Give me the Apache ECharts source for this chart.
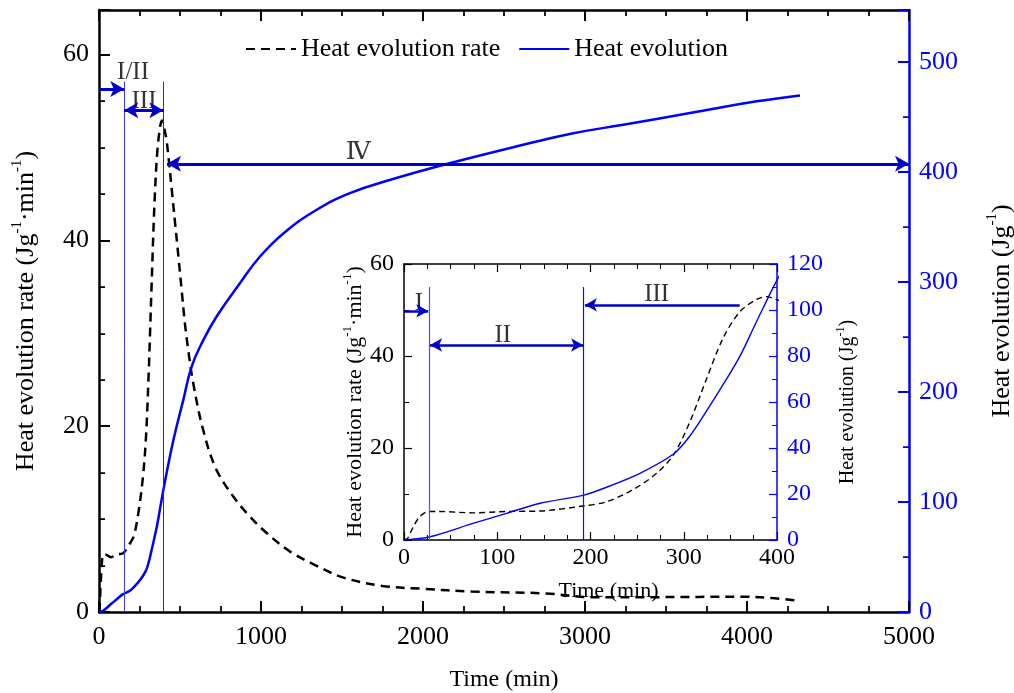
<!DOCTYPE html>
<html>
<head>
<meta charset="utf-8">
<script src="https://cdn.jsdelivr.net/npm/echarts@6/dist/echarts.min.js"></script>
<style>
html,body{margin:0;padding:0;background:#fff;}
#chart{width:1014px;height:693px;}
</style>
</head>
<body>
<div id="chart"></div>
<script>
// ---- Data ----
const rateTime = [0,4,10,17,26,38,74,110,146,192,217,246,271,289,306,324,342,360,378,389,399,415,430,450,470,490,510,530,550,580,640,720,830,930,1035,1180,1340,1510,1750,2000,2300,2760,3030,3440,3960,4150,4320];
const rateValue = [0,0.4,2.9,5.1,6.2,6.2,5.9,6.2,6.3,7.4,8.3,11,14.5,18.5,25.4,34.8,43.8,49.6,52.3,52.9,52.3,51,48.8,45.3,41.8,38.3,34.7,31.1,28.3,24.8,19.8,15.5,12.4,10.3,8.5,6.5,5.0,3.7,2.8,2.5,2.2,2.0,1.6,1.6,1.65,1.5,1.2];
const heatTime = [0,28,74,110,146,192,217,253,289,306,324,342,360,378,400,459,521,572,644,726,870,994,1138,1344,1549,1800,2146,2619,2928,3236,3648,4060,4327];
const heatValue = [0,1.4,7.2,11.6,16,19.4,22.9,29,37.4,44.9,55.8,67.4,79.7,94.9,113,156,193,223,247,268.5,298.8,323,344,365.5,380.6,392.7,407,424.5,435,442.7,453.4,464,469.4];

const seriesNames = ['Heat evolution rate', 'Heat evolution'];

// main-chart stage annotations (time in min, level in left-axis units)
const mainPhaseBounds = [156, 397];
const mainPhaseTop = 57.1;
const mainArrowFrom = [0, 156, 420];
const mainArrowTo = [156, 397, 5000];
const mainArrowLevel = [56.3, 54.0, 48.25];
const mainArrowBoth = [false, true, true];
const mainStageText = ['I/II', 'III', 'Ⅳ'];
const mainStageX = [210, 278, 1600];
const mainStageY = [58.1, 55.0, 49.5];

// inset stage annotations
const insetPhaseBounds = [27, 192];
const insetPhaseTop = 55;
const insetArrowFrom = [0, 28, 360];
const insetArrowTo = [26, 192, 194];
const insetArrowLevel = [49.8, 42.4, 51.1];
const insetArrowBoth = [false, true, false];
const insetStageText = ['I', 'II', 'III'];
const insetStageX = [16, 106, 271];
const insetStageY = [51.4, 44.4, 53.4];

// ---- build ----
const SERIF = "'Liberation Serif','Times New Roman','DejaVu Serif',serif";
const BLUE = '#0000ff';
const ABLUE = '#0000cc';
const rateData = rateTime.map((t, i) => [t, rateValue[i]]);
const heatData = heatTime.map((t, i) => [t, heatValue[i]]);

function arrowLines(from, to, lvl, both, width, size) {
  return from.map((f, i) => [
    {coord: [f, lvl[i]], symbol: both[i] ? 'arrow' : 'none', symbolSize: size},
    {coord: [to[i], lvl[i]], symbol: 'arrow', symbolSize: size, lineStyle: {color: ABLUE, width: width, type: 'solid'}}
  ]);
}
function phaseLines(bounds, top, colors, width) {
  return bounds.map((b, i) => [
    {coord: [b, 0], symbol: 'none'},
    {coord: [b, top], symbol: 'none', lineStyle: {color: colors[i], width: width, type: 'solid'}}
  ]);
}
function richName(size, supSize, color, pad) {
  return {
    fontFamily: SERIF, fontSize: size, color: color, padding: pad || 0,
    rich: {
      b: {fontFamily: SERIF, fontSize: size, color: color, lineHeight: size * 1.3},
      s: {fontFamily: SERIF, fontSize: supSize, color: color, verticalAlign: 'top', lineHeight: supSize}
    }
  };
}
const rateTitle = '{b|Heat evolution rate (Jg}{s|-1}{b|·min}{s|-1}{b|)}';
const heatTitle = '{b|Heat evolution (Jg}{s|-1}{b|)}';
const plain = v => String(v);

function xAx(grid, pos, max, interval, showLabel, fs, name, nameGap, lw, namePad, margin) {
  return {
    type: 'value', gridIndex: grid, position: pos, min: 0, max: max, interval: interval,
    name: name, nameLocation: 'middle', nameGap: nameGap,
    nameTextStyle: {fontFamily: SERIF, fontSize: fs - 2, color: '#000', padding: namePad || 0},
    axisLine: {show: true, onZero: false, lineStyle: {color: '#000', width: lw}},
    axisTick: {show: true, inside: true, length: grid === 0 ? 11 : 8, lineStyle: {color: '#000', width: lw * 0.8}},
    minorTick: {show: true, splitNumber: 4, length: grid === 0 ? 6 : 5, lineStyle: {color: '#000', width: lw * 0.7}},
    axisLabel: {show: showLabel, fontFamily: SERIF, fontSize: fs, color: '#000', margin: margin, formatter: plain},
    splitLine: {show: false}, minorSplitLine: {show: false}
  };
}
function yAx(grid, pos, max, interval, minorSplit, color, fs, name, nameGap, nameStyle, lw) {
  return {
    type: 'value', gridIndex: grid, position: pos, min: 0, max: max, interval: interval,
    name: name, nameLocation: 'middle', nameGap: nameGap, nameRotate: 90, nameTextStyle: nameStyle,
    axisLine: {show: true, onZero: false, lineStyle: {color: color, width: lw}},
    axisTick: {show: true, inside: true, length: grid === 0 ? 11 : 8, lineStyle: {color: color, width: lw * 0.8}},
    minorTick: {show: true, splitNumber: minorSplit, length: grid === 0 ? 6 : 5, lineStyle: {color: color, width: lw * 0.7}},
    axisLabel: {fontFamily: SERIF, fontSize: fs, color: color, margin: 10, formatter: plain, showMaxLabel: max % interval === 0},
    splitLine: {show: false}, minorSplitLine: {show: false}
  };
}

const option = {
  animation: false,
  backgroundColor: '#fff',
  grid: [
    {left: 99, right: 105, top: 10, bottom: 81, containLabel: false, outerBoundsMode: 'none'},
    {left: 404, right: 237, top: 264, bottom: 153, containLabel: false, outerBoundsMode: 'none'}
  ],
  legend: {
    data: seriesNames, left: 240, top: 31, itemWidth: 50, itemHeight: 14, itemGap: 18,
    itemStyle: {opacity: 0},
    textStyle: {fontFamily: SERIF, fontSize: 26, color: '#000'}
  },
  xAxis: [
    xAx(0, 'bottom', 5000, 1000, true, 26, 'Time (min)', 56, 2.5, 0, 12),
    xAx(0, 'top', 5000, 1000, false, 26, '', 10, 2.5, 0, 12),
    xAx(1, 'bottom', 400, 100, true, 24, 'Time (min)', 40, 1.5, [0, 0, 0, 36], 6),
    xAx(1, 'top', 400, 100, false, 24, '', 10, 1.5, 0, 6)
  ],
  yAxis: [
    yAx(0, 'left', 64.8, 20, 4, '#000', 26, rateTitle, 56, richName(26, 15, '#000'), 2.5),
    yAx(0, 'right', 547, 100, 2, BLUE, 26, heatTitle, 76, richName(26, 15, '#000'), 2.5),
    yAx(1, 'left', 60, 20, 2, '#000', 24, rateTitle, 34, richName(22, 13, '#000'), 1.5),
    yAx(1, 'right', 120, 20, 2, BLUE, 24, heatTitle, 58, richName(20, 12, '#000'), 1.5)
  ],
  series: [
    {
      name: seriesNames[0], type: 'line', xAxisIndex: 0, yAxisIndex: 0, data: rateData,
      showSymbol: false, symbol: 'none', smooth: 0.35,
      lineStyle: {color: '#000', width: 2.5, type: [9, 6]}, itemStyle: {color: '#000'},
      markLine: {
        silent: true, animation: false, label: {show: false},
        data: phaseLines(mainPhaseBounds, mainPhaseTop, ['#3a3aff', '#2020ee'], 1)
          .concat(arrowLines(mainArrowFrom, mainArrowTo, mainArrowLevel, mainArrowBoth, 3, [12, 14]))
      },
      z: 3
    },
    {
      name: seriesNames[1], type: 'line', xAxisIndex: 0, yAxisIndex: 1, data: heatData,
      showSymbol: false, symbol: 'none', smooth: 0.45,
      lineStyle: {color: BLUE, width: 2.5}, itemStyle: {color: BLUE}, z: 3
    },
    {
      name: 'inset rate', type: 'line', xAxisIndex: 2, yAxisIndex: 2, data: rateData,
      showSymbol: false, symbol: 'none', smooth: 0.3, clip: true,
      lineStyle: {color: '#000', width: 1.4, type: [6, 4]},
      markLine: {
        silent: true, animation: false, label: {show: false},
        data: phaseLines(insetPhaseBounds, insetPhaseTop, ['#4d4dff', '#1010e0'], 1.2)
          .concat(arrowLines(insetArrowFrom, insetArrowTo, insetArrowLevel, insetArrowBoth, 2.5, [10, 12]))
      }
    },
    {
      name: 'inset heat', type: 'line', xAxisIndex: 2, yAxisIndex: 3, data: heatData,
      showSymbol: false, symbol: 'none', smooth: 0.3, clip: true,
      lineStyle: {color: BLUE, width: 1.4}
    },
    {
      name: 'main stage labels', type: 'scatter', xAxisIndex: 0, yAxisIndex: 0, symbolSize: 0, silent: true,
      data: mainStageText.map((s, i) => ({value: [mainStageX[i], mainStageY[i]], name: s})),
      label: {show: true, position: 'inside', formatter: p => p.name, fontFamily: SERIF, fontSize: 25, color: '#000'}
    },
    {
      name: 'inset stage labels', type: 'scatter', xAxisIndex: 2, yAxisIndex: 2, symbolSize: 0, silent: true,
      data: insetStageText.map((s, i) => ({value: [insetStageX[i], insetStageY[i]], name: s})),
      label: {show: true, position: 'inside', formatter: p => p.name, fontFamily: SERIF, fontSize: 25, color: '#000'}
    }
  ]
};
const chart = echarts.init(document.getElementById('chart'), null, {renderer: 'canvas'});
chart.setOption(option);
</script>
</body>
</html>
